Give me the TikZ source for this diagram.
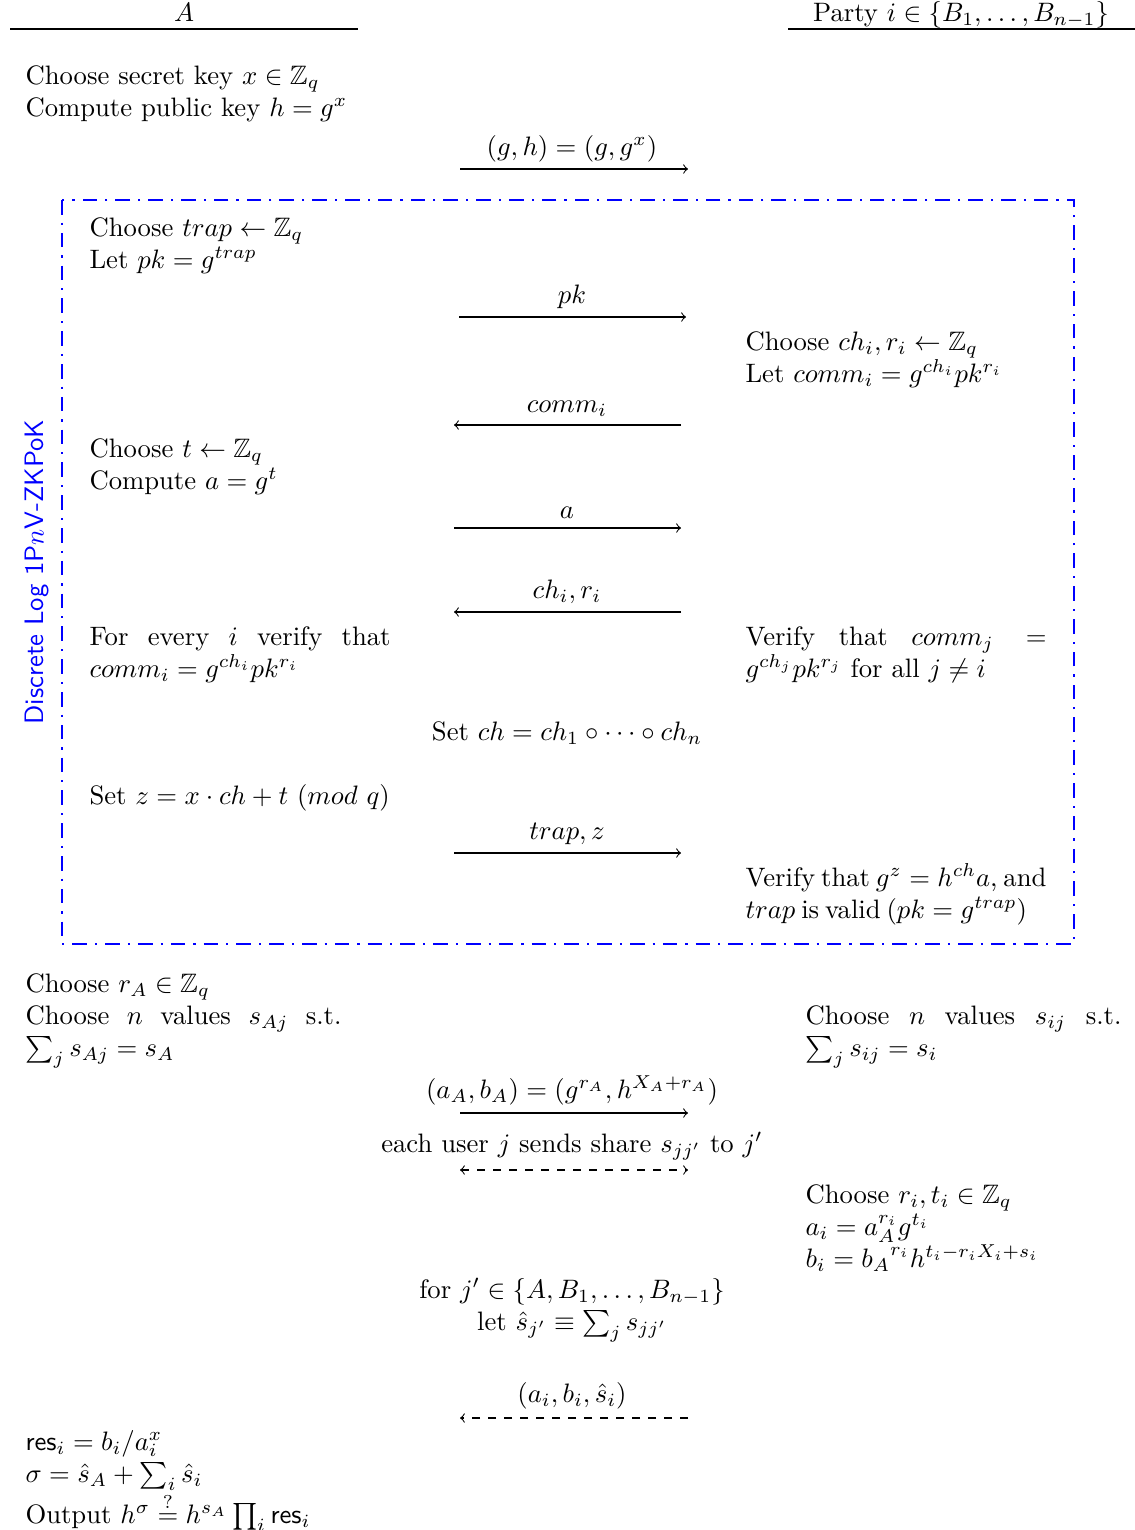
\documentclass[tikz,border=0pt]{standalone}
\usepackage{amsmath,amssymb}
\begin{document}
\begin{tikzpicture}[x=0.375pt,y=-0.375pt,
  txt/.style={inner sep=0pt, anchor=base west, align=left, text width=#1},
  txt/.default=150pt,
  jtxt/.style={inner sep=0pt, anchor=base west, align=justify, text width=#1},
  lbl/.style={inner sep=0pt, anchor=base},
  msg/.style={->, line width=0.4pt},
  dmsg/.style={->, line width=0.4pt, dashed},
  dbmsg/.style={<->, line width=0.4pt, dashed},
  hdr/.style={line width=0.4pt},
  zkbox/.style={blue, line width=0.8pt, dash pattern=on 5.5pt off 3pt on 0.8pt off 3pt}
]
\useasboundingbox (0,0) rectangle (1135,1530);

% headers
\node[lbl] (hA) at (184,21) {$A$};
\node[lbl] (hB) at (961,21) {Party $i \in \{B_1,\ldots,B_{n-1}\}$};
\coordinate (hAl) at (10,29); \coordinate (hAr) at (358,29);
\coordinate (hBl) at (788,29); \coordinate (hBr) at (1135,29);
\draw[hdr] (hAl) -- (hAr);
\draw[hdr] (hBl) -- (hBr);

% key generation
\node[txt] (kg) at (25,84) {Choose secret key $x \in \mathbb{Z}_q$\\Compute public key $h = g^x$};
\node[lbl] (l1) at (572,155) {$(g,h) = (g,g^x)$};
\coordinate (m1s) at (460,169); \coordinate (m1e) at (688,169);
\draw[msg] (m1s) -- (m1e);

% ZK box
\coordinate (bnw) at (62,200); \coordinate (bse) at (1074,944);
\draw[zkbox] (bnw) rectangle (bse);
\node[rotate=90, blue, font=\sffamily, inner sep=0pt] (zkl) at (37,572) {Discrete Log 1P$n$V-ZKPoK};

\node[txt] (a1) at (89,236) {Choose $trap \leftarrow \mathbb{Z}_q$\\Let $pk = g^{trap}$};
\node[lbl] (l2) at (572,303) {$pk$};
\coordinate (m2s) at (459,317); \coordinate (m2e) at (686,317);
\draw[msg] (m2s) -- (m2e);

\node[txt] (b1) at (745,350) {Choose $ch_i, r_i \leftarrow \mathbb{Z}_q$\\Let $comm_i = g^{ch_i}pk^{r_i}$};
\node[lbl] (l3) at (567,412) {$comm_i$};
\coordinate (m3s) at (681,425); \coordinate (m3e) at (454,425);
\draw[msg] (m3s) -- (m3e);

\node[txt] (a2) at (89,457) {Choose $t \leftarrow \mathbb{Z}_q$\\Compute $a = g^t$};
\node[lbl] (l4) at (567,518) {$a$};
\coordinate (m4s) at (454,528); \coordinate (m4e) at (681,528);
\draw[msg] (m4s) -- (m4e);

\node[lbl] (l5) at (567,598) {$ch_i, r_i$};
\coordinate (m5s) at (681,612); \coordinate (m5e) at (454,612);
\draw[msg] (m5s) -- (m5e);

\node[jtxt=112.9pt] (a3) at (89,645) {For every $i$ verify that $comm_i = g^{ch_i}pk^{r_i}$};
\node[jtxt=112.9pt] (b3) at (745,645) {Verify that $comm_j = g^{ch_j}pk^{r_j}$ for all $j \neq i$};

\node[lbl] (c1) at (567,740) {Set $ch = ch_1 \circ \cdots \circ ch_n$};

\node[txt] (a4) at (89,804) {Set $z = x \cdot ch + t$ $(mod\ q)$};
\node[lbl] (l6) at (567,839) {$trap, z$};
\coordinate (m6s) at (454,853); \coordinate (m6e) at (681,853);
\draw[msg] (m6s) -- (m6e);

\node[txt, execute at begin node={\spaceskip=2.2pt\xspaceskip=2.6pt\relax}] (b4) at (745,886) {Verify that $g^z = h^{ch}a$, and\\$trap$ is valid $(pk = g^{trap})$};

% after the box
\node[jtxt=118.5pt] (a5) at (25,992) {Choose $r_A \in \mathbb{Z}_q$\\Choose $n$ values $s_{Aj}$ s.t. $\sum_j s_{Aj} = s_A$};
\node[jtxt=118.5pt] (b5) at (805,1024) {Choose $n$ values $s_{ij}$ s.t. $\sum_j s_{ij} = s_i$};

\node[lbl] (l7) at (572,1098) {$(a_A, b_A) = (g^{r_A}, h^{X_A + r_A})$};
\coordinate (m7s) at (460,1113); \coordinate (m7e) at (688,1113);
\draw[msg] (m7s) -- (m7e);

\node[lbl] (l8) at (572,1152) {each user $j$ sends share $s_{jj'}$ to $j'$};
\coordinate (m8s) at (460,1170); \coordinate (m8e) at (688,1170);
\draw[dbmsg] (m8s) -- (m8e);

\node[txt] (b6) at (805,1203) {Choose $r_i, t_i \in \mathbb{Z}_q$\\$a_i = a_A^{r_i} g^{t_i}$\\$b_i = {b_A}^{r_i} h^{t_i - r_i X_i + s_i}$};

\node[lbl, align=center] (c2) at (572,1330) {for $j' \in \{A, B_1, \ldots, B_{n-1}\}$\\let $\hat{s}_{j'} \equiv \sum_j s_{jj'}$};

\node[lbl] (l9) at (572,1402) {$(a_i, b_i, \hat{s}_i)$};
\coordinate (m9s) at (688,1418); \coordinate (m9e) at (460,1418);
\draw[dmsg] (m9s) -- (m9e);

\node[txt] (a6) at (25,1450) {$\mathsf{res}_i = b_i / a_i^x$\\$\sigma = \hat{s}_A + \sum_i \hat{s}_i$\\Output $h^\sigma \stackrel{?}{=} h^{s_A} \prod_i \mathsf{res}_i$};
\end{tikzpicture}
\end{document}
